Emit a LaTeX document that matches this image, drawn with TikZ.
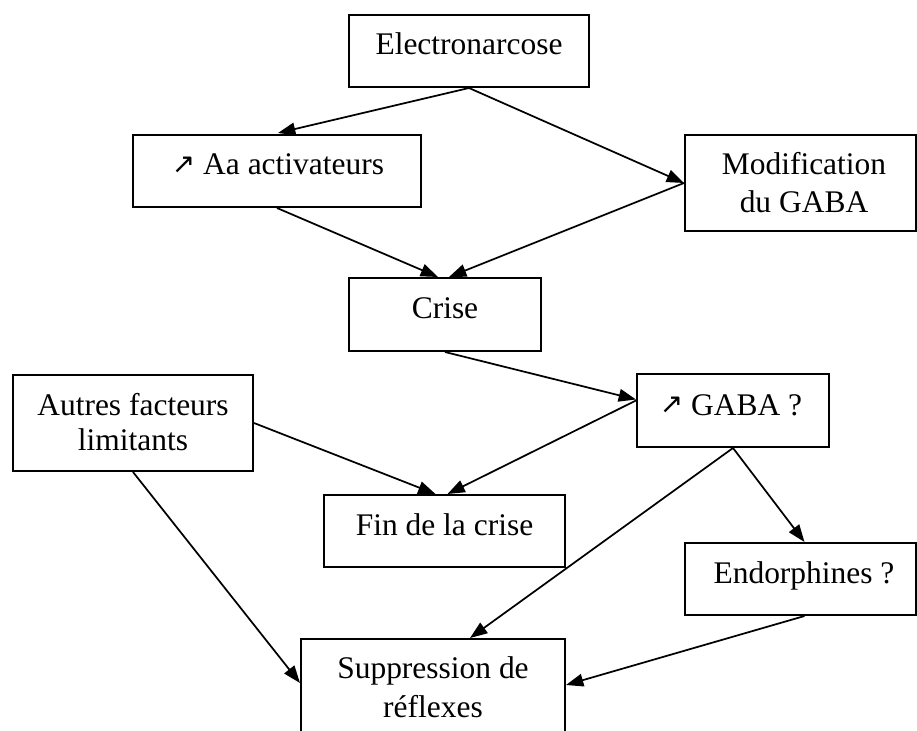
\documentclass[tikz,border=0pt]{standalone}
\usepackage{fontspec}
\setmainfont{Liberation Serif}
\newfontfamily\symfont{DejaVu Sans}
\usetikzlibrary{arrows.meta,calc}
\newcommand{\upar}{{\symfont\fontsize{21}{21}\selectfont\raisebox{1pt}{↗}}}
\begin{document}
\begin{tikzpicture}[x=0.75pt,y=-0.75pt,
  font=\fontsize{23.6}{28}\selectfont,
  box/.style={draw, rectangle, line width=1.5pt, inner sep=0pt},
  txt/.style={anchor=base, inner sep=0pt},
  arr/.style={-{Triangle[length=13pt,width=9.5pt]}, line width=1.3pt}]
\clip (0,0) rectangle (917,731);
\fill[white] (0,0) rectangle (917,731);

% boxes
\node[box, minimum width=180pt, minimum height=54pt] (elec) at (469,51) {};
\node[box, minimum width=216pt, minimum height=54pt] (aa) at (277,171) {};
\node[box, minimum width=173.25pt, minimum height=72pt] (mod) at (800.5,183) {};
\node[box, minimum width=144pt, minimum height=54.75pt] (crise) at (445,314.5) {};
\node[box, minimum width=180pt, minimum height=72pt] (autres) at (133,423) {};
\node[box, minimum width=144pt, minimum height=54.75pt] (gaba) at (733,410.5) {};
\node[box, minimum width=180.75pt, minimum height=54pt] (fin) at (444.5,531) {};
\node[box, minimum width=173.25pt, minimum height=54pt] (endo) at (800.5,579) {};
\node[box, minimum width=198pt, minimum height=72pt] (supp) at (433,687) {};

% texts
\node[txt] (elec-t) at (469,55) {Electronarcose};
\node[txt] (aa-t) at (278,175) {\upar\ Aa activateurs};
\node[txt] (mod-t1) at (804,175) {Modification};
\node[txt] (mod-t2) at (804,212) {du GABA};
\node[txt] (crise-t) at (445,318) {Crise};
\node[txt] (autres-t1) at (133,415) {Autres facteurs};
\node[txt] (autres-t2) at (133,450) {limitants};
\node[txt] (gaba-t) at (731,415) {\upar\ GABA ?};
\node[txt] (fin-t) at (444.5,535) {Fin de la crise};
\node[txt] (endo-t) at (804,583) {Endorphines ?};
\node[txt] (supp-t1) at (433,678) {Suppression de};
\node[txt] (supp-t2) at (433,717) {réflexes};

% connectors
\draw[arr] (elec.south) -- ($(aa.north)+(1,-1)$);
\draw[arr] (elec.south) -- (mod.west);
\draw[arr] (aa.south) -- ($(crise.north)+(-7,0)$);
\draw[arr] (mod.west) -- ($(crise.north)+(4,0)$);
\draw[arr] (crise.south) -- ($(gaba.west)+(0,-11)$);
\draw[arr] (autres.east) -- ($(fin.north)+(-9,0)$);
\draw[arr] ($(gaba.west)+(0,-10)$) -- ($(fin.north)+(3,0)$);
\draw[arr] (gaba.south) -- ($(endo.north)+(4,0)$);
\draw[arr] (gaba.south) -- ($(supp.north)+(37,0)$);
\draw[arr] (autres.south) -- ($(supp.west)+(0,-4)$);
\draw[arr] ($(endo.south)+(4,0)$) -- ($(supp.east)+(0,-2)$);
\end{tikzpicture}
\end{document}
